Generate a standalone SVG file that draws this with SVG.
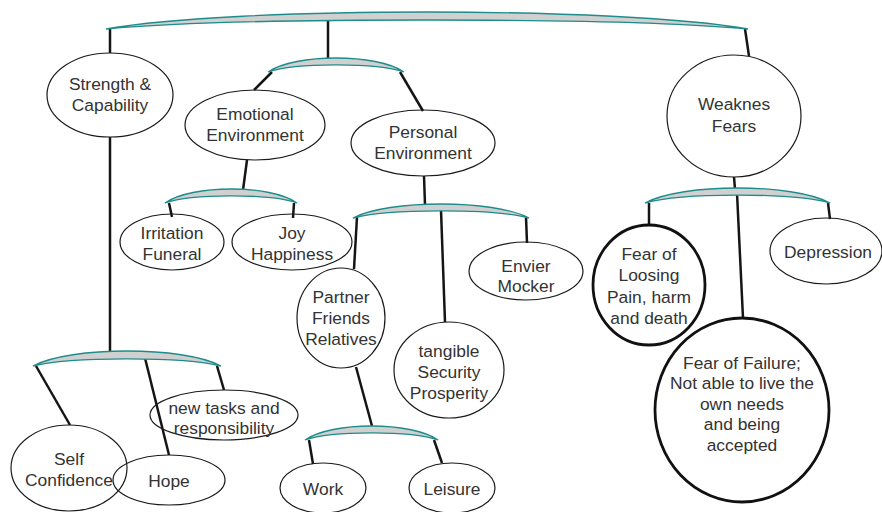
<svg xmlns="http://www.w3.org/2000/svg" width="882" height="512" viewBox="0 0 882 512">
<style>
.bar{fill:#d0d0d0;stroke:#1f8c8c;stroke-width:1.3}
.c{stroke:#151515;stroke-width:2.5;fill:none}
.n{fill:none;stroke:#1a1a1a;stroke-width:1.2}
.t{fill:none;stroke:#111;stroke-width:2.8}
text{font-family:"Liberation Sans",Arial,sans-serif;font-size:17.4px;fill:#333;text-anchor:middle}
</style>
<rect width="882" height="512" fill="#fff"/>
<g id="connectors">
<line class="c" x1="110" y1="29" x2="110" y2="53"/>
<line class="c" x1="328" y1="17" x2="328" y2="58"/>
<line class="c" x1="745" y1="29" x2="749" y2="56"/>
<line class="c" x1="272" y1="72" x2="254" y2="90"/>
<line class="c" x1="400" y1="72" x2="423" y2="111"/>
<line class="c" x1="247" y1="160" x2="243" y2="190"/>
<line class="c" x1="169" y1="203" x2="172" y2="217"/>
<line class="c" x1="294" y1="203" x2="293" y2="218"/>
<line class="c" x1="424" y1="176" x2="425" y2="205"/>
<line class="c" x1="357" y1="217" x2="354" y2="269"/>
<line class="c" x1="441" y1="210" x2="445" y2="322"/>
<line class="c" x1="526" y1="217" x2="527" y2="243"/>
<line class="c" x1="356" y1="367" x2="372" y2="426"/>
<line class="c" x1="309" y1="440" x2="313" y2="464"/>
<line class="c" x1="434" y1="440" x2="442" y2="463"/>
<line class="c" x1="110" y1="137" x2="110" y2="352"/>
<line class="c" x1="36" y1="366" x2="70" y2="425"/>
<line class="c" x1="145" y1="358" x2="169" y2="455"/>
<line class="c" x1="217" y1="366" x2="224" y2="390"/>
<line class="c" x1="734" y1="177" x2="735" y2="189"/>
<line class="c" x1="649" y1="203" x2="649" y2="225"/>
<line class="c" x1="737" y1="193" x2="743" y2="318"/>
<line class="c" x1="828" y1="203" x2="830" y2="219"/>
</g>
<g id="bars">
<path class="bar" d="M106,29 C234.4,6.33 619.6,6.33 748,29 C619.6,17 234.4,17 106,29Z"/>
<path class="bar" d="M268,72 C295.2,53.33 376.8,53.33 404,72 C376.8,62.5 295.2,62.5 268,72Z"/>
<path class="bar" d="M165,203 C191.4,184.33 270.6,184.33 297,203 C270.6,193.5 191.4,193.5 165,203Z"/>
<path class="bar" d="M353,218 C388.2,199.33 493.8,199.33 529,218 C493.8,208.5 388.2,208.5 353,218Z"/>
<path class="bar" d="M305,440 C331.6,421.33 411.4,421.33 438,440 C411.4,430.5 331.6,430.5 305,440Z"/>
<path class="bar" d="M33,366 C70.6,346 183.4,346 221,366 C183.4,356.5 70.6,356.5 33,366Z"/>
<path class="bar" d="M645,203 C682,183 793,183 830,203 C793,192.5 682,192.5 645,203Z"/>
</g>
<g id="strength">
<ellipse class="n" cx="110" cy="95" rx="63" ry="42"/>
<text x="110" y="90">Strength &amp;</text>
<text x="110" y="111">Capability</text>
</g>
<g id="emotional">
<ellipse class="n" cx="255" cy="125" rx="70" ry="35"/>
<text x="255" y="120">Emotional</text>
<text x="255" y="141">Environment</text>
</g>
<g id="personal">
<ellipse class="n" cx="423" cy="143" rx="72" ry="33"/>
<text x="423" y="138">Personal</text>
<text x="423" y="159">Environment</text>
</g>
<g id="weaknes">
<ellipse class="n" cx="734" cy="116" rx="67" ry="61"/>
<text x="734" y="110">Weaknes</text>
<text x="734" y="132">Fears</text>
</g>
<g id="irritation">
<ellipse class="n" cx="172" cy="242" rx="52" ry="28"/>
<text x="172" y="239">Irritation</text>
<text x="172" y="260">Funeral</text>
</g>
<g id="joy">
<ellipse class="n" cx="292" cy="242" rx="60" ry="28"/>
<text x="292" y="239">Joy</text>
<text x="292" y="260">Happiness</text>
</g>
<g id="partner">
<ellipse class="n" cx="341" cy="318" rx="44" ry="50"/>
<text x="341" y="303">Partner</text>
<text x="341" y="324">Friends</text>
<text x="341" y="345">Relatives</text>
</g>
<g id="tangible">
<ellipse class="n" cx="449" cy="370" rx="55" ry="48"/>
<text x="449" y="357">tangible</text>
<text x="449" y="378">Security</text>
<text x="449" y="399">Prosperity</text>
</g>
<g id="envier">
<ellipse class="n" cx="526" cy="271" rx="57" ry="29"/>
<text x="526" y="272">Envier</text>
<text x="526" y="292">Mocker</text>
</g>
<g id="work">
<ellipse class="n" cx="323" cy="488" rx="43" ry="25"/>
<text x="323" y="495">Work</text>
</g>
<g id="leisure">
<ellipse class="n" cx="452" cy="488" rx="43" ry="25"/>
<text x="452" y="495">Leisure</text>
</g>
<g id="selfconfidence">
<ellipse class="n" cx="69" cy="468" rx="58" ry="43"/>
<text x="69" y="465">Self</text>
<text x="69" y="486">Confidence</text>
</g>
<g id="hope">
<ellipse class="n" cx="169" cy="480" rx="56" ry="25"/>
<text x="169" y="487">Hope</text>
</g>
<g id="newtasks">
<ellipse class="n" cx="224" cy="415" rx="74" ry="25"/>
<text x="224" y="414">new tasks and</text>
<text x="224" y="434">responsibility</text>
</g>
<g id="fearloosing">
<ellipse class="t" cx="649" cy="285" rx="56" ry="60"/>
<text x="649" y="260">Fear of</text>
<text x="649" y="281">Loosing</text>
<text x="649" y="303">Pain, harm</text>
<text x="649" y="324">and death</text>
</g>
<g id="fearfailure">
<ellipse class="t" cx="742" cy="410" rx="87" ry="92"/>
<text x="742" y="369">Fear of Failure;</text>
<text x="742" y="389">Not able to live the</text>
<text x="742" y="410">own needs</text>
<text x="742" y="430">and being</text>
<text x="742" y="451">accepted</text>
</g>
<g id="depression">
<ellipse class="n" cx="826" cy="251" rx="56" ry="33"/>
<text x="828" y="258">Depression</text>
</g>
</svg>
